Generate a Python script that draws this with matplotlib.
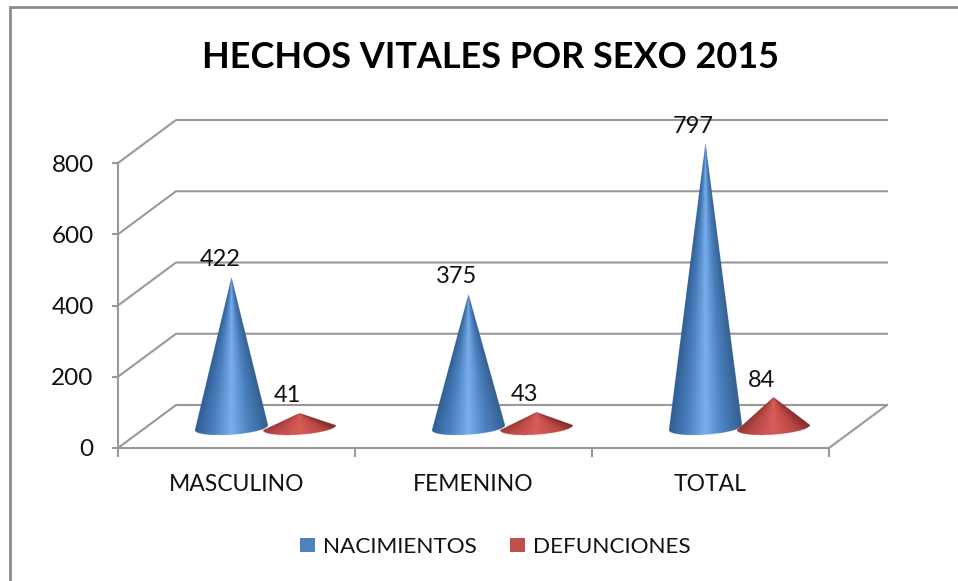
import numpy as np
import matplotlib
matplotlib.use("Agg")
import matplotlib.pyplot as plt
from matplotlib.colors import LinearSegmentedColormap
from matplotlib.patches import Patch, Rectangle
from matplotlib.path import Path

categories = ["MASCULINO", "FEMENINO", "TOTAL"]
nacimientos = [422, 375, 797]
defunciones = [41, 43, 84]
y_ticks = [0, 200, 400, 600, 800]
title = "HECHOS VITALES POR SEXO 2015"

W, H = 958, 581
plt.rcParams["font.family"] = ["Lato", "DejaVu Sans"]
fig = plt.figure(figsize=(W / 100, H / 100), dpi=100)

# front plane of the fake 3d box, in pixels
left, right, top, bottom = 118, 829, 163, 448
ax = fig.add_axes([left / W, 1 - bottom / H, (right - left) / W, (bottom - top) / H])
ax.set_xlim(0, 3)
ax.set_ylim(0, 800)
ax.patch.set_alpha(0)

# pixel sizes in data units
px_x = 3 / (right - left)
px_y = 800 / (bottom - top)
depth_x = 58 * px_x
depth_y = 43 * px_y
grid_col = "#999999"

for v in y_ticks:
    ax.plot([0, depth_x, 3 + depth_x], [v, v + depth_y, v + depth_y],
            color=grid_col, lw=1.5, clip_on=False, zorder=1)
ax.plot([3, 3 + depth_x], [0, depth_y], color=grid_col, lw=1.5, clip_on=False, zorder=1)

for s in ["top", "right"]:
    ax.spines[s].set_visible(False)
for s in ["left", "bottom"]:
    ax.spines[s].set_color(grid_col)
    ax.spines[s].set_linewidth(1.5)

ax.set_yticks(y_ticks)
ax.set_xticks([0, 1, 2, 3])
ax.set_xticklabels([])
ax.set_xticks([0.5, 1.5, 2.5], minor=True)
ax.set_xticklabels(categories, minor=True)
ax.tick_params(axis="x", which="major", length=6.5, width=1.5, color=grid_col)
ax.tick_params(axis="x", which="minor", length=0, pad=19, labelsize=16.5, labelcolor="#111111")
ax.tick_params(axis="y", length=4.5, width=1.5, color=grid_col, pad=13, labelsize=17.5, labelcolor="#111111")

blue_map = LinearSegmentedColormap.from_list("b", ["#2f5d92", "#4a7fbe", "#78aeec", "#4a7fbe", "#33608f"])
red_map = LinearSegmentedColormap.from_list("r", ["#8a2f2d", "#bb4a47", "#d95c58", "#bb4a47", "#8a2f2d"])


def cone(xc, value, cmap):
    # cone with a tilted elliptic base, shading follows the slope towards the tip
    a, b, tilt = 36.5 * px_x, 7 * px_y, 2.5 * px_y
    base = 56
    th = np.linspace(0, np.pi, 40)
    arc_x = xc + a * np.cos(th)
    arc_y = base - b * np.sin(th) + tilt * np.cos(th)
    outline = Path(np.r_[[[xc, base + value]], np.c_[arc_x, arc_y]])
    x0, x1 = xc - a * 1.05, xc + a * 1.05
    y0, y1 = base - b * 1.6, base + value
    nx = 300
    ny = max(int((y1 - y0) / px_y * 4), 60)
    xx, yy = np.meshgrid(np.linspace(x0, x1, nx), np.linspace(y0, y1, ny))
    frac = np.clip((base + value - yy) / value, 0.001, None)
    u = (xx - xc) / (a * frac)
    img = cmap(np.clip((u + 1) / 2, 0, 1))
    inside = outline.contains_points(np.c_[xx.ravel(), yy.ravel()])
    img[..., 3] = inside.reshape(xx.shape)
    ax.imshow(img, extent=[x0, x1, y0, y1], origin="lower", aspect="auto",
              interpolation="antialiased", zorder=3, clip_on=False)


for i in range(3):
    xc = i + 0.5 + depth_x / 2
    x_b = xc - 34 * px_x
    x_d = xc + 34 * px_x
    cone(x_b, nacimientos[i], blue_map)
    cone(x_d, defunciones[i], red_map)
    for xp, val in [(x_b, nacimientos[i]), (x_d, defunciones[i])]:
        ax.annotate(str(val), (xp, val + 56), xytext=(-8.5, 13), textcoords="offset points",
                    ha="center", va="center", fontsize=17, color="#111111", zorder=4,
                    annotation_clip=False)

ax.set_xlim(0, 3)
ax.set_ylim(0, 800)

fig.text(490 / W, 1 - 57 / H, title, ha="center", va="center",
         fontsize=25.9, fontweight="bold", color="black")

handles = [Patch(facecolor="#4f81bd", label="NACIMIENTOS"),
           Patch(facecolor="#c0504d", label="DEFUNCIONES")]
fig.legend(handles=handles, ncol=2, loc="center", bbox_to_anchor=(495.5 / W, 1 - 547 / H),
           frameon=False, fontsize=16.2, handlelength=0.66, handleheight=0.62,
           handletextpad=0.35, columnspacing=1.48, labelcolor="#111111",
           borderpad=0, borderaxespad=0)

# outer chart frame
fig.add_artist(Rectangle((10 / W, -0.05), 1.2, 1.05 - 7 / H, transform=fig.transFigure,
                         fill=False, edgecolor="#8c8c8c", lw=2))

fig.savefig("out.png", dpi=100)
